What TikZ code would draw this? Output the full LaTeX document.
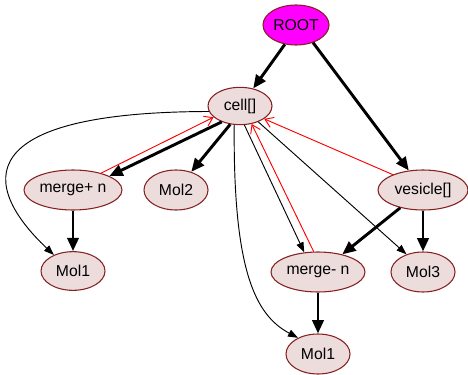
\documentclass[tikz,border=0pt]{standalone}
\usepackage{fontspec}
\setmainfont{Liberation Sans}
\usetikzlibrary{arrows.meta,shapes.geometric}
\definecolor{nodefill}{HTML}{EDDCDC}
\definecolor{nodeedge}{HTML}{862020}
\definecolor{rootfill}{HTML}{FF00FF}
\begin{document}
\begin{tikzpicture}[x=0.75pt,y=-0.75pt,
  state/.style={ellipse,draw=nodeedge,fill=nodefill,line width=0.8pt,inner sep=0pt,
    minimum height=30pt,font=\fontsize{11.8}{14}\selectfont},
  strong/.style={line width=2.2pt,-{Triangle[length=10pt,width=8.5pt]}},
  weak/.style={line width=0.7pt,-{Triangle[length=7.5pt,width=5.5pt]}},
  back/.style={line width=0.7pt,red,-{Straight Barb[length=6pt,width=8pt]}}]
\useasboundingbox (0,0) rectangle (468,375);

% nodes
\node[state,fill=rootfill,minimum width=49.5pt] (root) at (296,25) {ROOT};
\node[state,minimum width=48pt,minimum height=28pt] (cell) at (240,106) {cell[]};
\node[state,minimum width=73.5pt] (mplus) at (73,190) {merge+ n};
\node[state,minimum width=48pt] (mol2) at (176,190) {Mol2};
\node[state,minimum width=67.5pt] (ves) at (423,190) {vesicle[]};
\node[state,minimum width=48pt,minimum height=29pt] (mol1a) at (73,271) {Mol1};
\node[state,minimum width=70.5pt] (mminus) at (318,272) {merge- n};
\node[state,minimum width=48pt] (mol3) at (423,272) {Mol3};
\node[state,minimum width=48pt] (mol1b) at (318,354) {Mol1};

% tree edges
\draw[strong] (root.240) -- (cell.53);
\draw[strong] (root.314) -- (ves.126);
\draw[strong] (cell.221) -- (mplus.21);
\draw[strong] (cell.242) -- (mol2.50);
\draw[strong] (mplus.south) -- (mol1a.north);
\draw[strong] (ves.218) -- (mminus.36);
\draw[strong] (ves.south) -- (mol3.north);
\draw[strong] (mminus.south) -- (mol1b.north);

% cross edges
\draw[weak] (cell.190) .. controls (-30,112) and (-20,185) .. (mol1a.140);
\draw[weak] (cell.253) .. controls (233,270) and (255,315) .. (mol1b.141);
\draw[weak] (cell.283) -- (mminus.125);
\draw[weak] (cell.319) -- (mol3.133);

% back edges
\draw[back] (mplus.31) -- (cell.203);
\draw[back] (mminus.102) -- (cell.303);
\draw[back] (ves.153) -- (cell.332);
\end{tikzpicture}
\end{document}
